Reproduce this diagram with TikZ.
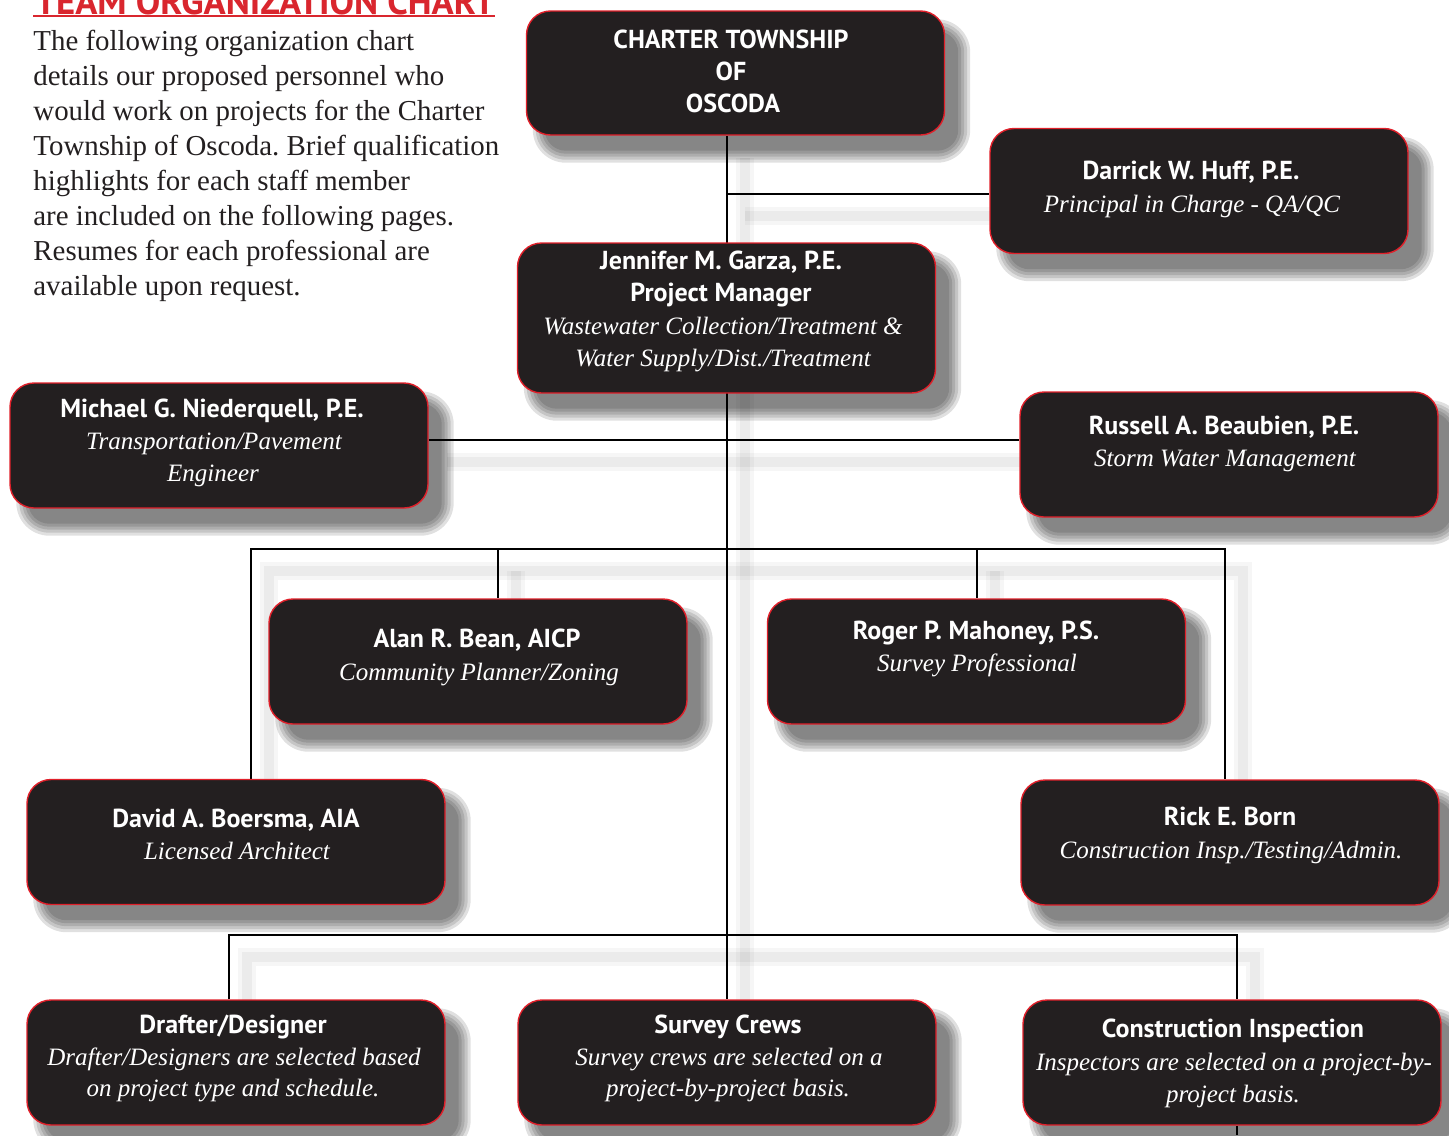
\documentclass[tikz,border=0pt]{standalone}
\usepackage{fontspec}
\setmainfont{Liberation Serif}
\newfontfamily\hsans{PT Sans}
\usetikzlibrary{calc}
\definecolor{boxfill}{HTML}{231F20}
\definecolor{boxred}{HTML}{E0202A}
\definecolor{titlered}{HTML}{D9262E}
\definecolor{ink}{HTML}{231F20}
\pgfdeclarelayer{bg}
\pgfdeclarelayer{lines}
\pgfsetlayers{bg,lines,main}
\frenchspacing
\newcommand\boxshade[1]{%
  \foreach \dd in {9,6,3,0,-3}{%
    \pgfmathsetmacro\rr{12+0.5*\dd}%
    \pgfmathsetmacro\ax{16-\dd}%
    \pgfmathsetmacro\ay{18-\dd}%
    \pgfmathsetmacro\bx{16+\dd}%
    \pgfmathsetmacro\by{18+\dd}%
    \fill[black,opacity=0.12,rounded corners=\rr pt]
      ([shift={(\ax,\ay)}]#1.north west) rectangle ([shift={(\bx,\by)}]#1.south east);
  }%
}
\newcommand\wires[1]{%
  \draw[#1] (b1.south -| b11.north) -- (b11.north);
  \draw[#1] (h0) -- (b2.west |- h0);
  \draw[#1] (b4.east |- h1) -- (b5.west |- h1);
  \draw[#1] (d1 |- b8.north) -- (d1) -- (d4) -- (d4 |- b9.north);
  \draw[#1] (d2) -- (d2 |- b6.north);
  \draw[#1] (d3) -- (d3 |- b7.north);
  \draw[#1] (e1 |- b10.north) -- (e1) -- (e2) -- (e2 |- b12.north);
  \draw[#1] (e2 |- b12.south) -- (e2 |- bot);
}
\begin{document}
\begin{tikzpicture}[x=0.5pt,y=-0.5pt,
  box/.style={draw=boxred, line width=0.7pt, fill=boxfill, rounded corners=12pt,
    minimum width=209pt, minimum height=62.5pt, inner sep=0pt},
  tx/.style={text=white, inner sep=0pt, text height=10pt, text depth=2.5pt},
  nm/.style={tx, font=\hsans\bfseries\fontsize{13}{15}\selectfont},
  rl/.style={tx, font=\itshape\fontsize{12.5}{16}\selectfont},
  pr/.style={anchor=base west, inner sep=0pt, text=ink, font=\fontsize{14.45}{17}\selectfont},
  wire/.style={draw=black, line width=1.4pt},
  wshadeA/.style={draw=black, opacity=0.035, line width=9pt},
  wshadeB/.style={draw=black, opacity=0.045, line width=5pt}]
\useasboundingbox (0,0) rectangle (1449,1135);

% title and intro
\begin{scope}
\clip (0,0) rectangle (1449,1135);
\node[anchor=base west, inner sep=0pt, text=titlered,
  font=\hsans\bfseries\fontsize{18.3}{18}\selectfont] (title) at (35,14) {TEAM ORGANIZATION CHART};
\end{scope}
\coordinate (ul1) at (33,16);
\coordinate (ul2) at (495,16);
\draw[titlered, line width=1pt] (ul1) -- (ul2);

\node[pr] (p1) at (33,50) {The following organization chart};
\node[pr] (p2) at (33,85) {details our proposed personnel who};
\node[pr] (p3) at (33,120) {would work on projects for the Charter};
\node[pr] (p4) at (33,155) {Township of Oscoda. Brief qualification};
\node[pr] (p5) at (33,190) {highlights for each staff member};
\node[pr] (p6) at (33,225) {are included on the following pages.};
\node[pr] (p7) at (33,260) {Resumes for each professional are};
\node[pr] (p8) at (33,295) {available upon request.};

% boxes
\node[box, minimum height=62pt] (b1) at (735.5,73) {};
\node[box] (b2) at (1199,191) {};
\node[box, minimum height=75pt] (b3) at (726.5,318) {};
\node[box] (b4) at (219,445.5) {};
\node[box] (b5) at (1229,454.5) {};
\node[box] (b6) at (478,661.5) {};
\node[box] (b7) at (976.5,661.5) {};
\node[box] (b8) at (236,842) {};
\node[box] (b9) at (1230,842.5) {};
\node[box] (b10) at (236,1062.5) {};
\node[box] (b11) at (727,1062.5) {};
\node[box] (b12) at (1232,1062.5) {};

% texts
\node[nm] (t1a) at (731,41) {CHARTER TOWNSHIP};
\node[nm] (t1b) at (731,73) {OF};
\node[nm] (t1c) at (733,105) {OSCODA};

\node[nm] (t2a) at (1191,172) {Darrick W. Huff, P.E.};
\node[rl] (t2b) at (1192,205) {Principal in Charge - QA/QC};

\node[nm] (t3a) at (721,262) {Jennifer M. Garza, P.E.};
\node[nm] (t3b) at (721,294) {Project Manager};
\node[rl] (t3c) at (723,327) {Wastewater Collection/Treatment \&};
\node[rl] (t3d) at (723,359) {Water Supply/Dist./Treatment};

\node[nm] (t4a) at (212,410) {Michael G. Niederquell, P.E.};
\node[rl] (t4b) at (214,442) {Transportation/Pavement};
\node[rl] (t4c) at (213,474) {Engineer};

\node[nm] (t5a) at (1224,427) {Russell A. Beaubien, P.E.};
\node[rl] (t5b) at (1225,459) {Storm Water Management};

\node[nm] (t6a) at (477,640) {Alan R. Bean, AICP};
\node[rl] (t6b) at (479,673) {Community Planner/Zoning};

\node[nm] (t7a) at (976,632) {Roger P. Mahoney, P.S.};
\node[rl] (t7b) at (977,664) {Survey Professional};

\node[nm] (t8a) at (236,820) {David A. Boersma, AIA};
\node[rl] (t8b) at (237,852) {Licensed Architect};

\node[nm] (t9a) at (1230,818) {Rick E. Born};
\node[rl] (t9b) at (1231,851) {Construction Insp./Testing/Admin.};

\node[nm] (t10a) at (233,1026) {Drafter/Designer};
\node[rl] (t10b) at (234,1058) {Drafter/Designers are selected based};
\node[rl] (t10c) at (233,1089) {on project type and schedule.};

\node[nm] (t11a) at (728,1026) {Survey Crews};
\node[rl] (t11b) at (729,1058) {Survey crews are selected on a};
\node[rl] (t11c) at (728,1089) {project-by-project basis.};

\node[nm] (t12a) at (1233,1030) {Construction Inspection};
\node[rl] (t12b) at (1234,1063) {Inspectors are selected on a project-by-};
\node[rl] (t12c) at (1233,1095) {project basis.};

% connector junctions
\coordinate (h0) at (727,194);
\coordinate (h1) at (727,440);
\coordinate (d1) at (251,549);
\coordinate (d2) at (498,549);
\coordinate (d3) at (977,549);
\coordinate (d4) at (1225,549);
\coordinate (e1) at (229,935);
\coordinate (e2) at (1237,935);
\coordinate (bot) at (0,1135);

\begin{pgfonlayer}{bg}
  \begin{scope}[transform canvas={shift={(9pt,-11pt)}}]
    \wires{wshadeA}
    \wires{wshadeB}
  \end{scope}
  \boxshade{b1}\boxshade{b2}\boxshade{b3}\boxshade{b4}
  \boxshade{b5}\boxshade{b6}\boxshade{b7}\boxshade{b8}
  \boxshade{b9}\boxshade{b10}\boxshade{b11}\boxshade{b12}
\end{pgfonlayer}
\begin{pgfonlayer}{lines}
  \wires{wire}
\end{pgfonlayer}
\end{tikzpicture}
\end{document}
